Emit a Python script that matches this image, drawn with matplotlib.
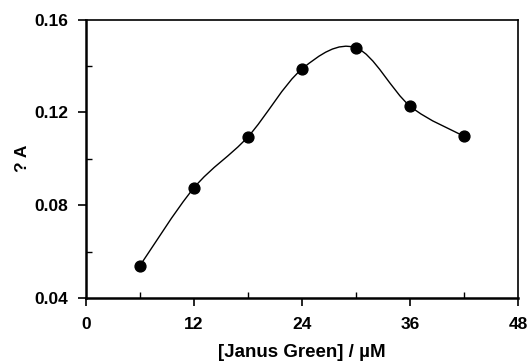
import numpy as np
import matplotlib
matplotlib.use("Agg")
import matplotlib.pyplot as plt
from matplotlib.path import Path
from matplotlib.patches import PathPatch
from matplotlib.ticker import MultipleLocator

plt.rcParams['font.family'] = ['Liberation Sans', 'DejaVu Sans']
plt.rcParams['font.weight'] = 'bold'

# data
conc = [6, 12, 18, 24, 30, 36, 42]
absorb = [0.054, 0.0875, 0.1095, 0.1387, 0.1478, 0.1227, 0.1097]
x_ticks = [0, 12, 24, 36, 48]
y_ticks = [0.04, 0.08, 0.12, 0.16]

fig = plt.figure(figsize=(5.27, 3.62), dpi=100)
ax = fig.add_axes([0.1632, 0.1768, 0.8198, 0.7692])

# smoothed line, Excel style (Bezier through the points)
pts = np.column_stack([conc, absorb])
verts = [tuple(pts[0])]
codes = [Path.MOVETO]
n = len(pts)
for i in range(n - 1):
    p0 = pts[i - 1] if i > 0 else pts[i]
    p1 = pts[i]
    p2 = pts[i + 1]
    p3 = pts[i + 2] if i + 2 < n else pts[i + 1]
    c1 = p1 + (p2 - p0) / 6.0
    c2 = p2 - (p3 - p1) / 6.0
    verts += [tuple(c1), tuple(c2), tuple(p2)]
    codes += [Path.CURVE4] * 3
ax.add_patch(PathPatch(Path(verts, codes), facecolor='none', edgecolor='black', lw=1.0))

ax.plot(conc, absorb, 'o', color='black', markersize=7.8, zorder=3)

ax.set_xlim(0, 48)
ax.set_ylim(0.04, 0.16)
ax.set_xticks(x_ticks)
ax.set_yticks(y_ticks)
ax.set_yticklabels(['%.2f' % v for v in y_ticks])
ax.xaxis.set_minor_locator(MultipleLocator(6))
ax.yaxis.set_minor_locator(MultipleLocator(0.02))
ax.tick_params(which='major', direction='out', length=6, width=1.2, labelsize=12.5)
ax.tick_params(axis='y', which='major', pad=7)
ax.tick_params(axis='x', which='major', pad=8)
ax.tick_params(which='minor', direction='in', length=4, width=1.0)
for s in ax.spines.values():
    s.set_linewidth(1.2)
ax.spines['left'].set_linewidth(1.8)
ax.spines['bottom'].set_linewidth(1.8)

ax.set_xlabel('[Janus Green] / µM', fontsize=13.5, fontweight='bold', labelpad=8)
ax.set_ylabel('? A', fontsize=12.5, fontweight='bold', labelpad=3)

fig.savefig('out.png', dpi=100)
